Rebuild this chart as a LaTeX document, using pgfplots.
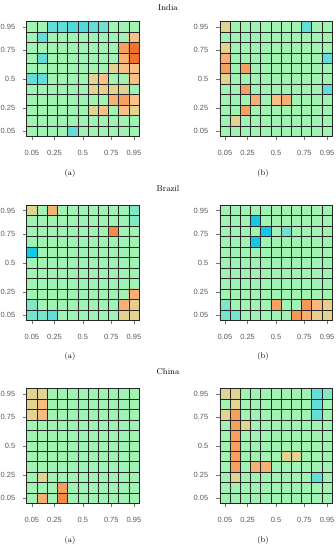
\documentclass[border=0pt]{standalone}
\usepackage{fontspec}
\usepackage{pgfplots}
\pgfplotsset{compat=1.18}
\usepackage{pgfplotstable}
\newfontfamily\tickfont{Liberation Sans}

% meta codes: 0 bright cyan, 1 cyan, 2 green, 3 tan, 4 light orange, 5 orange, 6 dark orange
% each table: 11 rows from top (0.95) to bottom (0.05), 11 columns from 0.05 to 0.95
\pgfplotstableread[row sep=\\]{c\\
2\\2\\1\\1\\0.8\\0.8\\1\\1.2\\2\\2\\2\\
2\\1\\2\\2\\2\\2\\2\\2\\2\\2\\4\\
2\\2\\2\\2\\2\\2\\2\\2\\2\\5\\6\\
2\\1\\2\\2\\2\\2\\2\\2\\2\\4.5\\6\\
2\\2\\2\\2\\2\\2\\2\\2\\3\\4\\4\\
1\\1\\2\\2\\2\\2\\3\\4\\2\\2\\4\\
2\\2\\2\\2\\2\\2\\3\\3.3\\3\\3\\2\\
2\\2\\2\\2\\2\\2\\2\\2\\4.5\\5\\4\\
2\\2\\2\\2\\2\\2\\3\\4\\2\\4\\3\\
2\\2\\2\\2\\2\\2\\2\\2\\2\\2\\2\\
2\\2\\2\\2\\1\\2\\2\\2\\2\\2\\2\\
}\IndiaA
\pgfplotstableread[row sep=\\]{c\\
3\\2\\2\\2\\2\\2\\2\\2\\1\\2\\2\\
2\\2\\2\\2\\2\\2\\2\\2\\2\\2\\2\\
3\\2\\2\\2\\2\\2\\2\\2\\2\\2\\2\\
4.5\\2\\2\\2\\2\\2\\2\\2\\2\\2\\1\\
5\\2\\5\\2\\2\\2\\2\\2\\2\\2\\2\\
3\\2\\2\\2\\2\\2\\2\\2\\2\\2\\2\\
2\\2\\5\\2\\2\\2\\2\\2\\2\\2\\1\\
2\\2\\2\\4.5\\2\\4\\4.5\\2\\2\\2\\2\\
2\\2\\5\\2\\2\\2\\2\\2\\2\\2\\2\\
2\\3\\2\\2\\2\\2\\2\\2\\2\\2\\2\\
2\\2\\2\\2\\2\\2\\2\\2\\2\\2\\2\\
}\IndiaB
\pgfplotstableread[row sep=\\]{c\\
3\\2\\4.5\\2\\2\\2\\2\\2\\2\\2\\1.5\\
2\\2\\2\\2\\2\\2\\2\\2\\2\\2\\1.5\\
2\\2\\2\\2\\2\\2\\2\\2\\5.5\\2\\2\\
2\\2\\2\\2\\2\\2\\2\\2\\2\\2\\2\\
0\\2\\2\\2\\2\\2\\2\\2\\2\\2\\2\\
2\\2\\2\\2\\2\\2\\2\\2\\2\\2\\2\\
2\\2\\2\\2\\2\\2\\2\\2\\2\\2\\2\\
2\\2\\2\\2\\2\\2\\2\\2\\2\\2\\2\\
2\\2\\2\\2\\2\\2\\2\\2\\2\\2\\4.5\\
1.5\\2\\2\\2\\2\\2\\2\\2\\2\\4.5\\3.3\\
1.3\\1.3\\1\\2\\2\\2\\2\\2\\2\\3.3\\3\\
}\BrazilA
\pgfplotstableread[row sep=\\]{c\\
2\\2\\2\\2\\2\\2\\2\\2\\2\\2\\2\\
2\\2\\2\\0\\2\\2\\2\\2\\2\\2\\2\\
2\\2\\2\\2\\0\\2\\1.2\\2\\2\\2\\2\\
2\\2\\2\\0\\2\\2\\2\\2\\2\\2\\2\\
2\\2\\2\\2\\2\\2\\2\\2\\2\\2\\2\\
2\\2\\2\\2\\2\\2\\2\\2\\2\\2\\2\\
2\\2\\2\\2\\2\\2\\2\\2\\2\\2\\2\\
2\\2\\2\\2\\2\\2\\2\\2\\2\\2\\2\\
2\\2\\2\\2\\2\\2\\2\\2\\2\\2\\2\\
1.5\\2\\2\\2\\2\\5\\2\\2\\5.2\\4.3\\3.3\\
1.3\\1.3\\2\\2\\2\\2\\2\\5.2\\4.6\\3.3\\3\\
}\BrazilB
\pgfplotstableread[row sep=\\]{c\\
3\\3\\2\\2\\2\\2\\2\\2\\2\\2\\2\\
3\\4.2\\2\\2\\2\\2\\2\\2\\2\\2\\2\\
3\\4.2\\2\\2\\2\\2\\2\\2\\2\\2\\2\\
2\\2\\2\\2\\2\\2\\2\\2\\2\\2\\2\\
2\\2\\2\\2\\2\\2\\2\\2\\2\\2\\2\\
2\\2\\2\\2\\2\\2\\2\\2\\2\\2\\2\\
2\\2\\2\\2\\2\\2\\2\\2\\2\\2\\2\\
2\\2\\2\\2\\2\\2\\2\\2\\2\\2\\2\\
2\\3\\2\\2\\2\\2\\2\\2\\2\\2\\2\\
2\\2\\2\\5\\2\\2\\2\\2\\2\\2\\2\\
2\\4.5\\2\\5.5\\2\\2\\2\\2\\2\\2\\2\\
}\ChinaA
\pgfplotstableread[row sep=\\]{c\\
3\\3\\2\\2\\2\\2\\2\\2\\2\\1\\1.5\\
2\\3\\2\\2\\2\\2\\2\\2\\2\\1\\2\\
3\\5\\2\\2\\2\\2\\2\\2\\2\\1\\2\\
2\\5\\3\\2\\2\\2\\2\\2\\2\\2\\2\\
2\\5\\2\\2\\2\\2\\2\\2\\2\\2\\2\\
2\\5\\2\\2\\2\\2\\2\\2\\2\\2\\2\\
2\\5\\2\\2\\2\\2\\3\\3\\2\\2\\2\\
2\\5\\2\\4.5\\4.5\\2\\2\\2\\2\\2\\2\\
2\\3\\2\\2\\2\\2\\2\\2\\2\\1\\2\\
2\\2\\2\\2\\2\\2\\2\\2\\2\\2\\2\\
2\\2\\2\\2\\2\\2\\2\\2\\2\\2\\2\\
}\ChinaB

\pgfplotsset{
  heat/.style={
    scale only axis, width=112.4bp, height=115bp,
    anchor=south west,
    xmin=0.005, xmax=0.995, ymin=0.005, ymax=0.995,
    enlargelimits=false,
    xtick={0.05,0.25,0.5,0.75,0.95},
    ytick={0.05,0.25,0.5,0.75,0.95},
    xticklabels={0.05,0.25,0.5,0.75,0.95},
    yticklabels={0.05,0.25,0.5,0.75,0.95},
    minor xtick={0.095,0.185,0.275,0.365,0.455,0.545,0.635,0.725,0.815,0.905},
    minor ytick={0.095,0.185,0.275,0.365,0.455,0.545,0.635,0.725,0.815,0.905},
    minor tick length=0pt,
    xminorgrids=true, yminorgrids=true,
    minor grid style={black!85, line width=0.55pt},
    major tick length=4bp,
    tick align=outside,
    tick pos=left,
    tick style={black!55, line width=0.4pt},
    axis line style={black!85, line width=0.55pt},
    ticklabel style={font=\tickfont\fontsize{7.5}{8}\selectfont, text=black!65},
    xticklabel style={yshift=-6bp},
    yticklabel style={xshift=-4bp},
    axis on top,
    colormap={heatmap}{rgb255(0)=(20,200,232) rgb255(1)=(100,220,215) rgb255(2)=(160,243,178) rgb255(3)=(225,212,145) rgb255(4)=(248,192,135) rgb255(5)=(246,160,95) rgb255(6)=(240,115,45)},
    point meta min=0, point meta max=6,
  },
  cells/.style={matrix plot*, mesh/cols=11, point meta=explicit},
}

\newcommand{\heatplot}[1]{%
  \addplot[cells] table[x index=0, y index=0, x expr={0.05+0.09*mod(\coordindex,11)}, y expr={0.95-0.09*floor(\coordindex/11)}, meta index=0]{#1};}

\begin{document}
\begin{tikzpicture}
\useasboundingbox (0,0) rectangle (336bp,550bp);

\begin{axis}[heat, at={(26.7bp,413.5bp)}]
\heatplot{\IndiaA}
\end{axis}
\begin{axis}[heat, at={(219.8bp,413.5bp)}]
\heatplot{\IndiaB}
\end{axis}

\begin{axis}[heat, at={(26.7bp,229.7bp)}]
\heatplot{\BrazilA}
\end{axis}
\begin{axis}[heat, at={(219.8bp,229.7bp)}]
\heatplot{\BrazilB}
\end{axis}

\begin{axis}[heat, at={(26.7bp,46.5bp)}]
\heatplot{\ChinaA}
\end{axis}
\begin{axis}[heat, at={(219.8bp,46.5bp)}]
\heatplot{\ChinaB}
\end{axis}

\node[font=\fontsize{8.5}{10}\selectfont] at (168bp,542bp) {India};
\node[font=\fontsize{8.5}{10}\selectfont] at (168bp,361bp) {Brazil};
\node[font=\fontsize{8.5}{10}\selectfont] at (168bp,178bp) {China};

\node[font=\fontsize{8}{10}\selectfont] at (70bp,376bp) {(a)};
\node[font=\fontsize{8}{10}\selectfont] at (263bp,376bp) {(b)};
\node[font=\fontsize{8}{10}\selectfont] at (70bp,193bp) {(a)};
\node[font=\fontsize{8}{10}\selectfont] at (263bp,193bp) {(b)};
\node[font=\fontsize{8}{10}\selectfont] at (70bp,9bp) {(a)};
\node[font=\fontsize{8}{10}\selectfont] at (263bp,9bp) {(b)};
\end{tikzpicture}
\end{document}
